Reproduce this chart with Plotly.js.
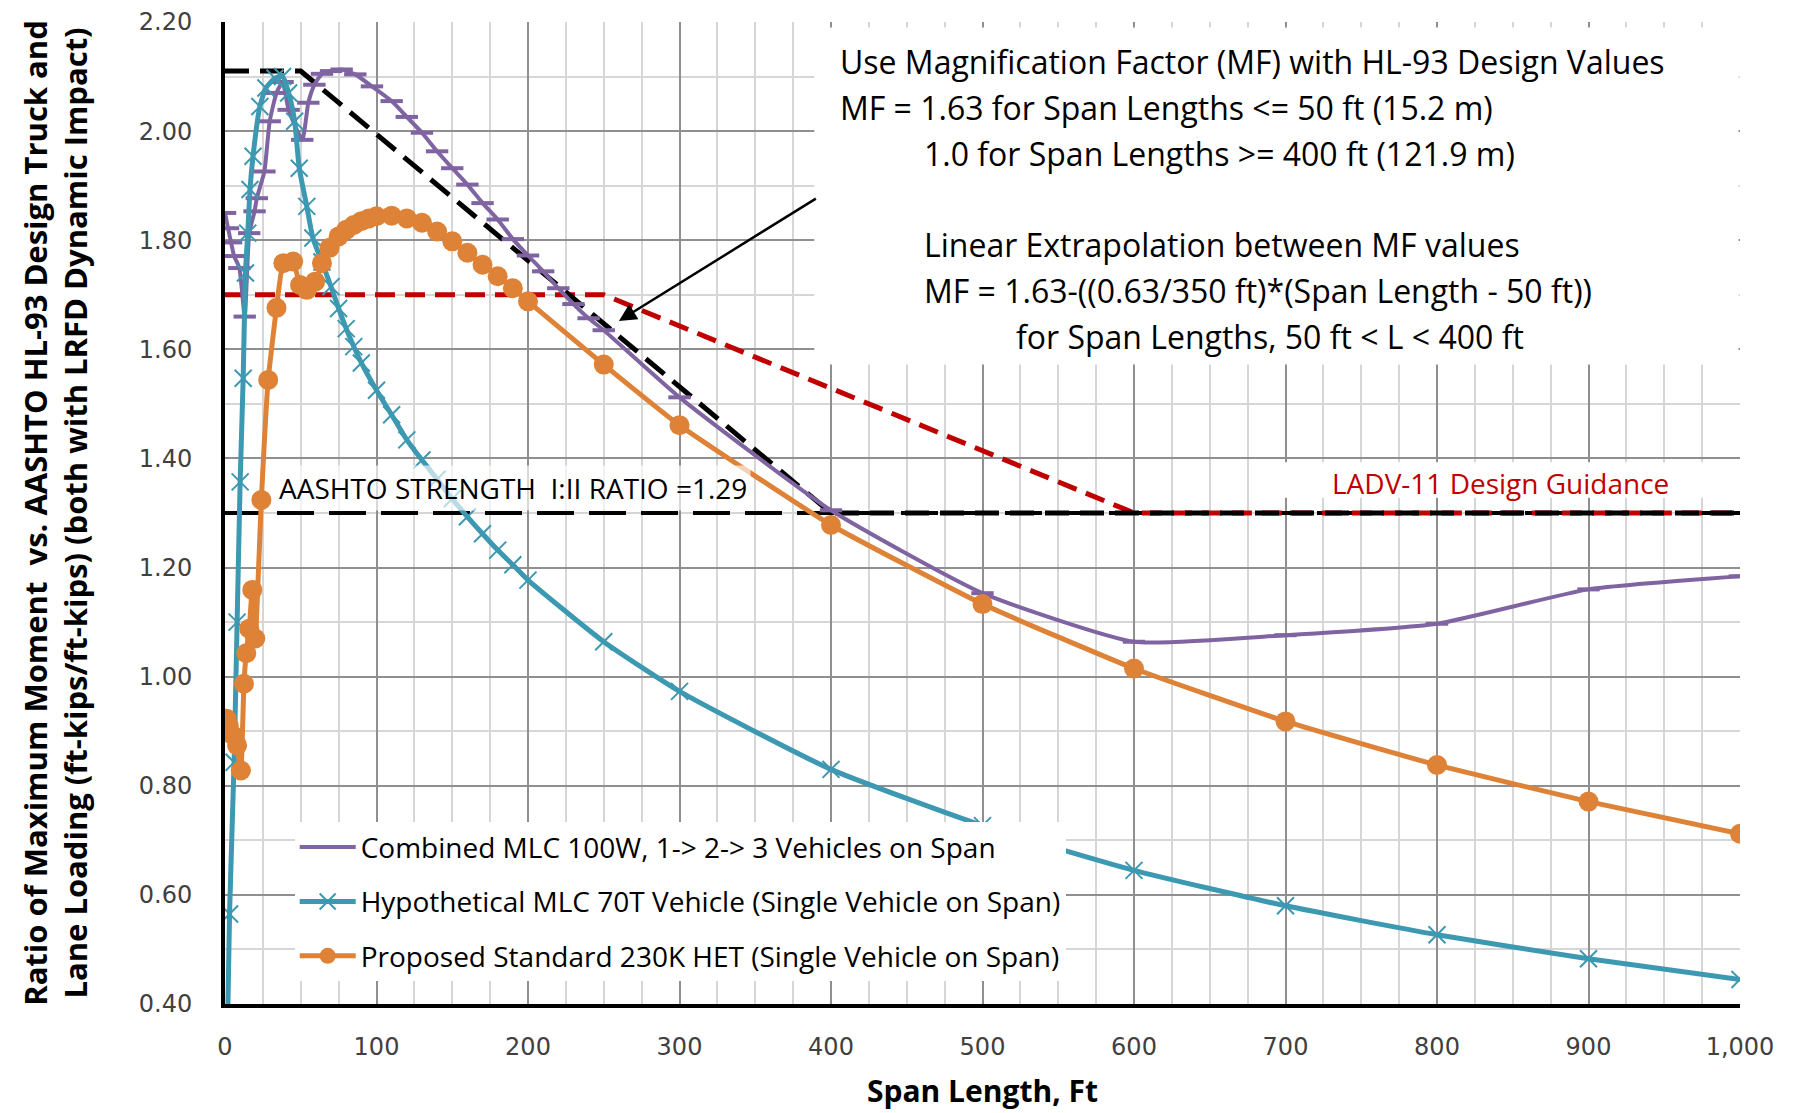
<!DOCTYPE html>
<html>
<head>
<meta charset="utf-8">
<script src="https://cdn.plot.ly/plotly-3.0.1.min.js"></script>
<style>html,body{margin:0;padding:0;background:#fff;}#chart{width:1797px;height:1113px;}</style>
</head>
<body>
<div id="chart"></div>
<script>
// ---- Data ----
const spanCombined = [0, 2, 4, 6, 9.5, 13, 16, 19.5, 21, 26, 29.5, 34, 38, 42, 51, 55, 59, 64, 70, 77, 86, 97, 110, 120, 130, 140, 150, 160, 170, 180, 190, 200, 210, 220, 230, 240, 250, 300, 400, 500, 600, 700, 800, 900, 1000];
const ratioCombined = [1.85, 1.822, 1.796, 1.771, 1.749, 1.660, 1.813, 1.853, 1.877, 1.926, 2.018, 2.07, 2.09, 2.039, 1.984, 2.052, 2.085, 2.105, 2.11, 2.113, 2.104, 2.082, 2.055, 2.026, 1.997, 1.963, 1.932, 1.902, 1.868, 1.838, 1.802, 1.772, 1.743, 1.712, 1.683, 1.657, 1.635, 1.512, 1.305, 1.153, 1.064, 1.076, 1.097, 1.16, 1.184];

const spanMLC70T = [1, 3, 6, 8, 10, 12, 13.5, 15, 16.5, 18.5, 23, 27, 33, 38, 42, 46, 49, 54, 58, 64, 70, 75, 80, 85, 90, 100, 110, 120, 130, 140, 150, 160, 170, 180, 190, 200, 250, 300, 400, 500, 600, 700, 800, 900, 1000];
const ratioMLC70T = [0.25, 0.565, 0.843, 1.10, 1.357, 1.547, 1.74, 1.813, 1.893, 1.954, 2.045, 2.079, 2.097, 2.10, 2.07, 2.018, 1.932, 1.862, 1.804, 1.76, 1.715, 1.675, 1.638, 1.605, 1.575, 1.525, 1.48, 1.434, 1.397, 1.362, 1.326, 1.293, 1.262, 1.232, 1.205, 1.177, 1.064, 0.973, 0.830, 0.727, 0.645, 0.58, 0.527, 0.483, 0.445];

const spanHET = [1, 2.5, 5, 8, 10.5, 12.5, 14, 16, 18, 20, 24, 28.5, 34, 38.5, 45, 49.5, 54, 59.5, 64, 69, 75, 80, 85, 90, 95, 100, 110, 120, 130, 140, 150, 160, 170, 180, 190, 200, 250, 300, 400, 500, 600, 700, 800, 900, 1000];
const ratioHET = [0.923, 0.91, 0.893, 0.874, 0.828, 0.987, 1.043, 1.088, 1.159, 1.07, 1.324, 1.544, 1.676, 1.758, 1.761, 1.718, 1.709, 1.724, 1.758, 1.786, 1.807, 1.819, 1.828, 1.835, 1.84, 1.844, 1.845, 1.84, 1.832, 1.816, 1.798, 1.777, 1.755, 1.734, 1.712, 1.688, 1.572, 1.461, 1.278, 1.133, 1.015, 0.918, 0.838, 0.771, 0.712];

// HL-93 magnification-factor envelope (black dashed)
const spanMF = [0, 50, 400, 1000];
const ratioMF = [2.11, 2.11, 1.30, 1.30];
// LADV-11 design guidance (red dashed)
const spanLADV = [0, 250, 600, 1000];
const ratioLADV = [1.70, 1.70, 1.30, 1.30];
// AASHTO Strength I:II ratio line
const spanStrength = [0, 1000];
const ratioStrength = [1.30, 1.30];

const seriesNames = [
  "Combined MLC 100W, 1-> 2-> 3 Vehicles on Span",
  "Hypothetical MLC 70T Vehicle (Single Vehicle on Span)",
  "Proposed Standard 230K HET (Single Vehicle on Span)"
];
const xTickVals = [0, 100, 200, 300, 400, 500, 600, 700, 800, 900, 1000];
const yTickVals = [0.4, 0.6, 0.8, 1.0, 1.2, 1.4, 1.6, 1.8, 2.0, 2.2];

const boxLines = [
  "Use Magnification Factor (MF) with HL-93 Design Values",
  "MF = 1.63 for Span Lengths <= 50 ft (15.2 m)",
  "1.0 for Span Lengths >= 400 ft (121.9 m)",
  "Linear Extrapolation between MF values",
  "MF = 1.63-((0.63/350 ft)*(Span Length - 50 ft))",
  "for Span Lengths, 50 ft < L < 400 ft"
];
// ---- end data ----

const PURPLE = '#8064A2', TEAL = '#3D98B1', ORANGE = '#DD8236', RED = '#C00000';
const TXT = 'Open Sans, Noto Sans, sans-serif';

const traces = [
  {x: spanStrength, y: ratioStrength, mode: 'lines', showlegend: false, hoverinfo: 'skip',
   line: {color: '#000', width: 4, dash: '37px,15px'}},
  {x: spanLADV, y: ratioLADV, mode: 'lines', showlegend: false, hoverinfo: 'skip',
   line: {color: RED, width: 5, dash: '20px,10px'}},
  {x: spanMF, y: ratioMF, mode: 'lines', showlegend: false, hoverinfo: 'skip',
   line: {color: '#000', width: 5, dash: '24px,11px'}},
  {x: spanCombined, y: ratioCombined, name: seriesNames[0], mode: 'lines+markers', legendgroup: 'a',
   line: {color: PURPLE, width: 4, shape: 'spline', smoothing: 0.5},
   marker: {symbol: 'line-ew', size: 16, color: PURPLE, line: {color: PURPLE, width: 4}}},
  {x: spanMLC70T, y: ratioMLC70T, name: seriesNames[1], mode: 'lines+markers', legendgroup: 'b',
   line: {color: TEAL, width: 5, shape: 'spline', smoothing: 0.5},
   marker: {symbol: 'x-thin', size: 17, color: TEAL, line: {color: TEAL, width: 2}}},
  {x: spanHET, y: ratioHET, name: seriesNames[2], mode: 'lines+markers', legendgroup: 'c',
   line: {color: ORANGE, width: 5, shape: 'spline', smoothing: 0.4},
   marker: {symbol: 'circle', size: 20, color: ORANGE}}
];

const boxX = [404.6, 404.6, 460, 460, 460, 520.8];
const boxY = [2.1275, 2.043, 1.959, 1.792, 1.707, 1.623];
const annotations = boxLines.map((t, i) => ({
  x: boxX[i], y: boxY[i], xref: 'x', yref: 'y', text: t, showarrow: false,
  xanchor: 'left', yanchor: 'middle', font: {family: TXT, size: 32, color: '#000'}
}));
annotations.push({
  x: 33, y: 1.346, xref: 'x', yref: 'y', text: 'AASHTO STRENGTH  I:II RATIO =1.29', showarrow: false,
  xanchor: 'left', yanchor: 'middle', bgcolor: 'rgba(255,255,255,0.65)', borderpad: 3,
  font: {family: TXT, size: 28, color: '#000'}
});
annotations.push({
  x: 841.6, y: 1.355, xref: 'x', yref: 'y', text: 'LADV-11 Design Guidance', showarrow: false,
  xanchor: 'center', yanchor: 'middle', font: {family: TXT, size: 28, color: RED}
});
annotations.push({
  x: 260, y: 1.652, xref: 'x', yref: 'y', ax: 391, ay: 1.878, axref: 'x', ayref: 'y',
  text: '', showarrow: true, arrowhead: 2, arrowsize: 1.4, arrowwidth: 2.5, arrowcolor: '#000'
});

const layout = {
  width: 1797, height: 1113,
  margin: {l: 225, r: 57, t: 22, b: 109},
  paper_bgcolor: '#fff', plot_bgcolor: '#fff',
  showlegend: true,
  legend: {x: 0.046, y: 0.185, xanchor: 'left', yanchor: 'top', bgcolor: '#fff',
           traceorder: 'grouped', tracegroupgap: 15, itemwidth: 56,
           font: {family: TXT, size: 28, color: '#000'}},
  xaxis: {
    range: [0, 1000], tickvals: xTickVals, tickformat: ',', ticks: '',
    showline: true, linecolor: '#000', linewidth: 4, zeroline: false,
    showgrid: true, gridcolor: '#8f8f8f', gridwidth: 2,
    minor: {dtick: 25, showgrid: true, gridcolor: '#d6d6d6', gridwidth: 2},
    ticklabelstandoff: 18,
    tickfont: {family: 'DejaVu Sans', size: 24, color: '#404040'},
    title: {text: 'Span Length, Ft', font: {family: TXT, size: 30, color: '#000', weight: 'bold'}, standoff: 22}
  },
  yaxis: {
    range: [0.4, 2.2], tickvals: yTickVals, tickformat: '.2f', ticks: '',
    showline: true, linecolor: '#000', linewidth: 4, zeroline: false,
    showgrid: true, gridcolor: '#8f8f8f', gridwidth: 2,
    minor: {dtick: 0.1, showgrid: true, gridcolor: '#d6d6d6', gridwidth: 2},
    ticklabelstandoff: 24,
    tickfont: {family: 'DejaVu Sans', size: 24, color: '#404040'},
    title: {text: 'Ratio of Maximum Moment  vs. AASHTO HL-93 Design Truck and<br>Lane Loading (ft-kips/ft-kips) (both with LRFD Dynamic Impact)',
            font: {family: TXT, size: 31, color: '#000', weight: 'bold'}, standoff: 43}
  },
  shapes: [
    {type: 'rect', xref: 'x', yref: 'y', x0: 389, x1: 999, y0: 1.572, y1: 2.19, layer: 'between',
     fillcolor: '#fff', line: {width: 0}},
    {type: 'rect', xref: 'x', yref: 'y', x0: 698, x1: 999, y0: 1.328, y1: 1.393, layer: 'between',
     fillcolor: '#fff', line: {width: 0}}
  ],
  annotations: annotations
};

Plotly.newPlot('chart', traces, layout, {displayModeBar: false, staticPlot: true});
</script>
</body>
</html>
